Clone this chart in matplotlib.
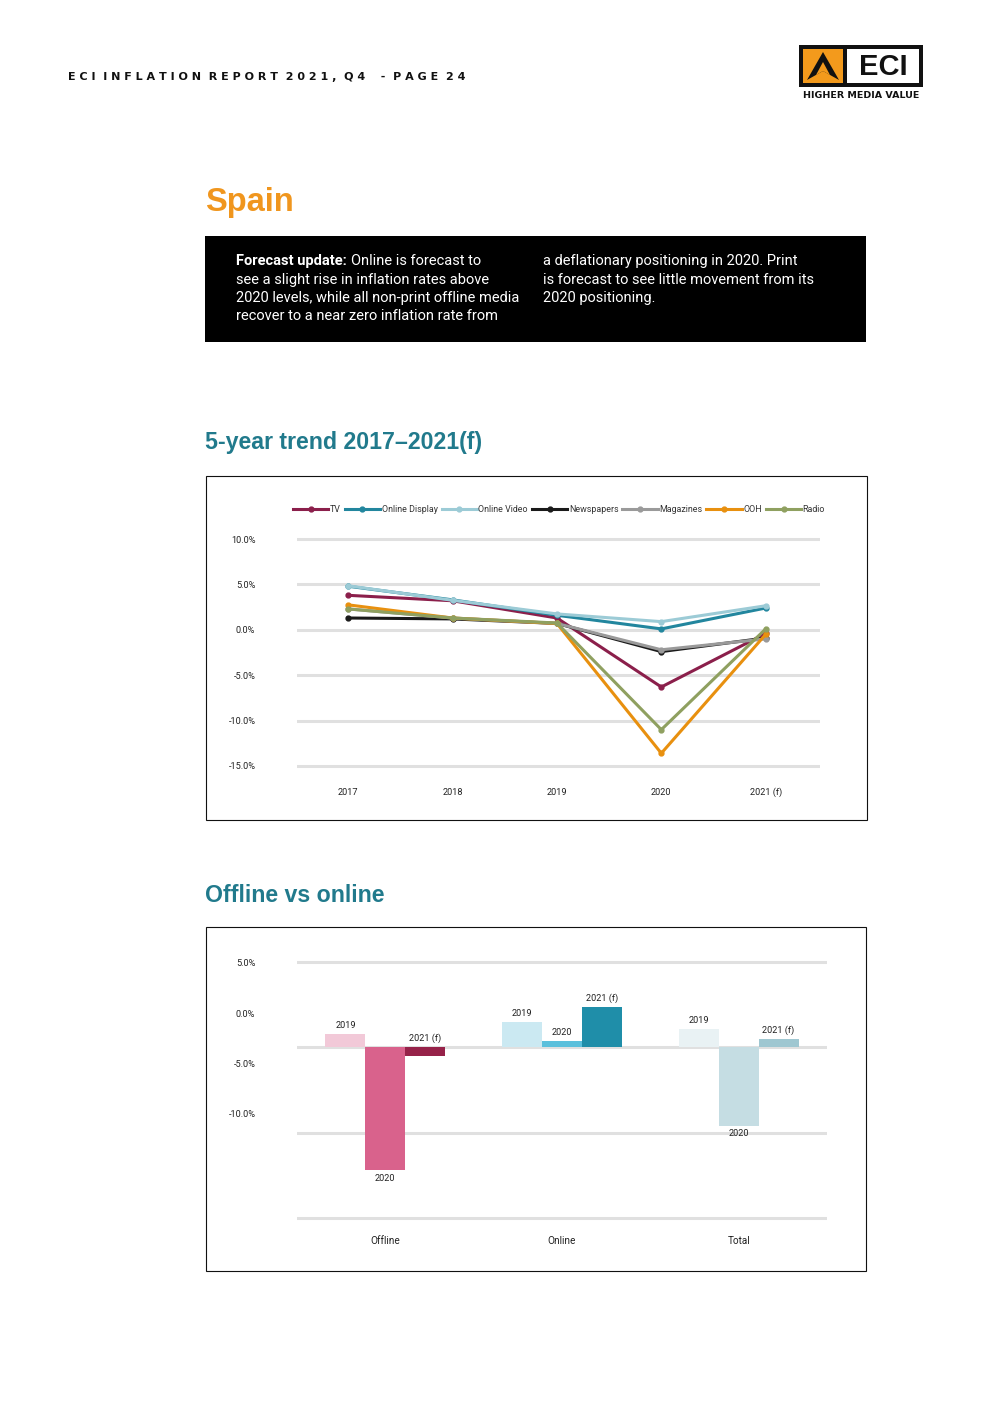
import matplotlib
matplotlib.use("Agg")
import matplotlib.pyplot as plt
from matplotlib.patches import Rectangle, Polygon

# ---------------- data ----------------
years = ["2017", "2018", "2019", "2020", "2021 (f)"]
series_names = ["TV", "Online Display", "Online Video", "Newspapers", "Magazines", "OOH", "Radio"]
tv = [3.8, 3.2, 1.3, -6.3, -0.4]
online_display = [4.8, 3.3, 1.6, 0.1, 2.4]
online_video = [4.85, 3.25, 1.75, 0.9, 2.65]
newspapers = [1.3, 1.2, 0.7, -2.4, -0.9]
magazines = [2.3, 1.3, 0.7, -2.2, -1.0]
ooh = [2.75, 1.3, 0.7, -13.6, -0.5]
radio = [2.3, 1.3, 0.75, -11.0, 0.1]
series_colors = ["#8b1f4b", "#22869e", "#9ccbd6", "#1a1a1a", "#9a9a9a", "#e8900f", "#8fa060"]
line_ticks = [10, 5, 0, -5, -10, -15]

groups = ["Offline", "Online", "Total"]
bar_years = ["2019", "2020", "2021 (f)"]
vals_2019 = [0.76, 1.47, 1.06]
vals_2020 = [-7.2, 0.37, -4.6]
vals_2021 = [-0.53, 2.35, 0.47]
bar_colors = [
    ["#f2c9d8", "#d9628c", "#962249"],   # Offline
    ["#cbe9f2", "#5bc0dc", "#1f8ea9"],   # Online
    ["#e9f2f4", "#c5dde3", "#9fc7d1"],   # Total
]
bar_grid = [5, 0, -5, -10]
# tick labels as they appear (misaligned) in the reference
bar_tick_labels = ["5.0%", "0.0%", "-5.0%", "-10.0%"]
bar_tick_pos = [5.0, 2.0, -0.94, -3.87]

# ---------------- figure ----------------
W, H = 992, 1403
fig = plt.figure(figsize=(W / 100, H / 100), dpi=100)
FONT = ["Roboto", "DejaVu Sans"]
plt.rcParams["font.family"] = FONT

deco = fig.add_axes([0, 0, 1, 1], zorder=0)
deco.set_xlim(0, W)
deco.set_ylim(H, 0)
deco.axis("off")


def axes_px(l, t, r, b):
    return fig.add_axes([l / W, 1 - b / H, (r - l) / W, (b - t) / H], zorder=2)


# header
header = "ECI INFLATION REPORT 2021, Q4  - PAGE 24"
spaced = "  ".join(" ".join(list(w)) for w in header.split(" "))
deco.text(68, 77, spaced, fontsize=8.0, fontweight="bold", color="#111111",
          va="center", ha="left", family=["DejaVu Sans"])

# logo
deco.add_patch(Rectangle((799, 45), 124, 42, facecolor="#111111", edgecolor="none"))
deco.add_patch(Rectangle((803, 49), 40, 34, facecolor="#f39a1c", edgecolor="none"))
deco.add_patch(Rectangle((847, 49), 72, 34, facecolor="white", edgecolor="none"))
deco.add_patch(Polygon([(823, 52), (839, 80), (823, 71), (807, 80)], closed=True,
                       facecolor="#111111", edgecolor="none"))
deco.add_patch(Polygon([(823, 62), (830, 75), (823, 71), (816, 75)], closed=True,
                       facecolor="#f39a1c", edgecolor="none"))
deco.text(883, 67, "ECI", fontsize=21, fontweight="bold", color="#111111",
          ha="center", va="center", family=["Liberation Sans"])
deco.text(861, 96, "HIGHER MEDIA VALUE", fontsize=6.8, fontweight="heavy", color="#111111",
          ha="center", va="center", family=["DejaVu Sans"])

# title
deco.text(205, 203, "Spain", fontsize=23.5, fontweight="bold", color="#f0961e",
          ha="left", va="center", family=["Liberation Sans"])

# black box
deco.add_patch(Rectangle((205, 236), 661, 106, facecolor="black", edgecolor="none"))
col1 = ["see a slight rise in inflation rates above",
        "2020 levels, while all non-print offline media",
        "recover to a near zero inflation rate from"]
col2 = ["a deflationary positioning in 2020. Print",
        "is forecast to see little movement from its",
        "2020 positioning."]
line_y = [261, 280, 298, 316]
fs_box = 10.5
t_bold = deco.text(236, line_y[0], "Forecast update:", fontsize=fs_box, fontweight="bold",
                   color="white", ha="left", va="center")
fig.canvas.draw()
bb = t_bold.get_window_extent()
x_after = bb.x1 + 4
deco.text(x_after, line_y[0], "Online is forecast to", fontsize=fs_box, color="white",
          ha="left", va="center")
for i, s in enumerate(col1):
    deco.text(236, line_y[i + 1], s, fontsize=fs_box, color="white", ha="left", va="center")
for i, s in enumerate(col2):
    deco.text(543, line_y[i], s, fontsize=fs_box, color="white", ha="left", va="center")

# section titles
teal = "#217a8c"
deco.text(205, 443, "5-year trend 2017\u20132021(f)", fontsize=16.7, fontweight="bold",
          color=teal, ha="left", va="center", family=["Liberation Sans"])
deco.text(205, 895, "Offline vs online", fontsize=16.7, fontweight="bold",
          color=teal, ha="left", va="center", family=["Liberation Sans"])

# chart frames
deco.add_patch(Rectangle((205.5, 475.5), 661, 344, facecolor="none", edgecolor="#111111", lw=0.8))
deco.add_patch(Rectangle((205.5, 926.5), 660, 344, facecolor="none", edgecolor="#111111", lw=0.8))

# ---------------- line chart ----------------
ax = axes_px(297, 534.5, 820, 770.5)
ax.set_facecolor("none")
all_series = [tv, online_display, online_video, newspapers, magazines, ooh, radio]
xs = list(range(len(years)))
for name, vals, col in zip(series_names, all_series, series_colors):
    ax.plot(xs, vals, color=col, lw=2.2, marker="o", markersize=3.5, label=name, zorder=3)
for g in line_ticks:
    ax.axhline(g, color="#e0e0e0", lw=2.2, zorder=1)
ax.set_xlim(-0.49, 4.52)
ax.set_ylim(-15.5, 10.5)
ax.set_yticks(line_ticks)
ax.set_yticklabels([f"{t:.1f}%" for t in line_ticks])
ax.set_xticks(xs)
ax.set_xticklabels(years)
ax.tick_params(axis="y", length=0, pad=30, labelsize=6.6, labelcolor="#222222")
ax.tick_params(axis="x", length=0, pad=12.5, labelsize=6.6, labelcolor="#222222")
for sp in ax.spines.values():
    sp.set_visible(False)
leg = ax.legend(loc="center", bbox_to_anchor=(559 / W, 1 - 510 / H), bbox_transform=fig.transFigure,
                ncol=7, frameon=False, fontsize=6.4, handlelength=4.0, handletextpad=0.15,
                columnspacing=0.45, borderpad=0)
for t in leg.get_texts():
    t.set_color("#333333")

# ---------------- bar chart ----------------
bx = axes_px(297, 956.9, 827, 1223.1)
bx.set_facecolor("none")
bw = 0.226
year_vals = [vals_2019, vals_2020, vals_2021]
for gi, g in enumerate(groups):
    for yi, yv in enumerate(year_vals):
        v = yv[gi]
        x = gi + (yi - 1) * bw
        bx.bar(x, v, width=bw, color=bar_colors[gi][yi], zorder=2, linewidth=0)
        if v > -2:
            bx.annotate(bar_years[yi], (x, max(v, 0)), xytext=(0, 3), textcoords="offset points",
                        ha="center", va="bottom", fontsize=6.6, color="#222222")
        else:
            bx.annotate(bar_years[yi], (x, v), xytext=(0, -2.5), textcoords="offset points",
                        ha="center", va="top", fontsize=6.6, color="#222222")
for g in bar_grid:
    bx.axhline(g, color="#e0e0e0", lw=2.2, zorder=1)
bx.set_xlim(-0.5, 2.5)
bx.set_ylim(-10.3, 5.3)
bx.set_yticks(bar_tick_pos)
bx.set_yticklabels(bar_tick_labels)
bx.set_xticks(range(len(groups)))
bx.set_xticklabels(groups)
bx.tick_params(axis="y", length=0, pad=30, labelsize=6.6, labelcolor="#222222")
bx.tick_params(axis="x", length=0, pad=9, labelsize=7.2, labelcolor="#222222")
for sp in bx.spines.values():
    sp.set_visible(False)

fig.savefig("out.png", dpi=100, facecolor="white")
